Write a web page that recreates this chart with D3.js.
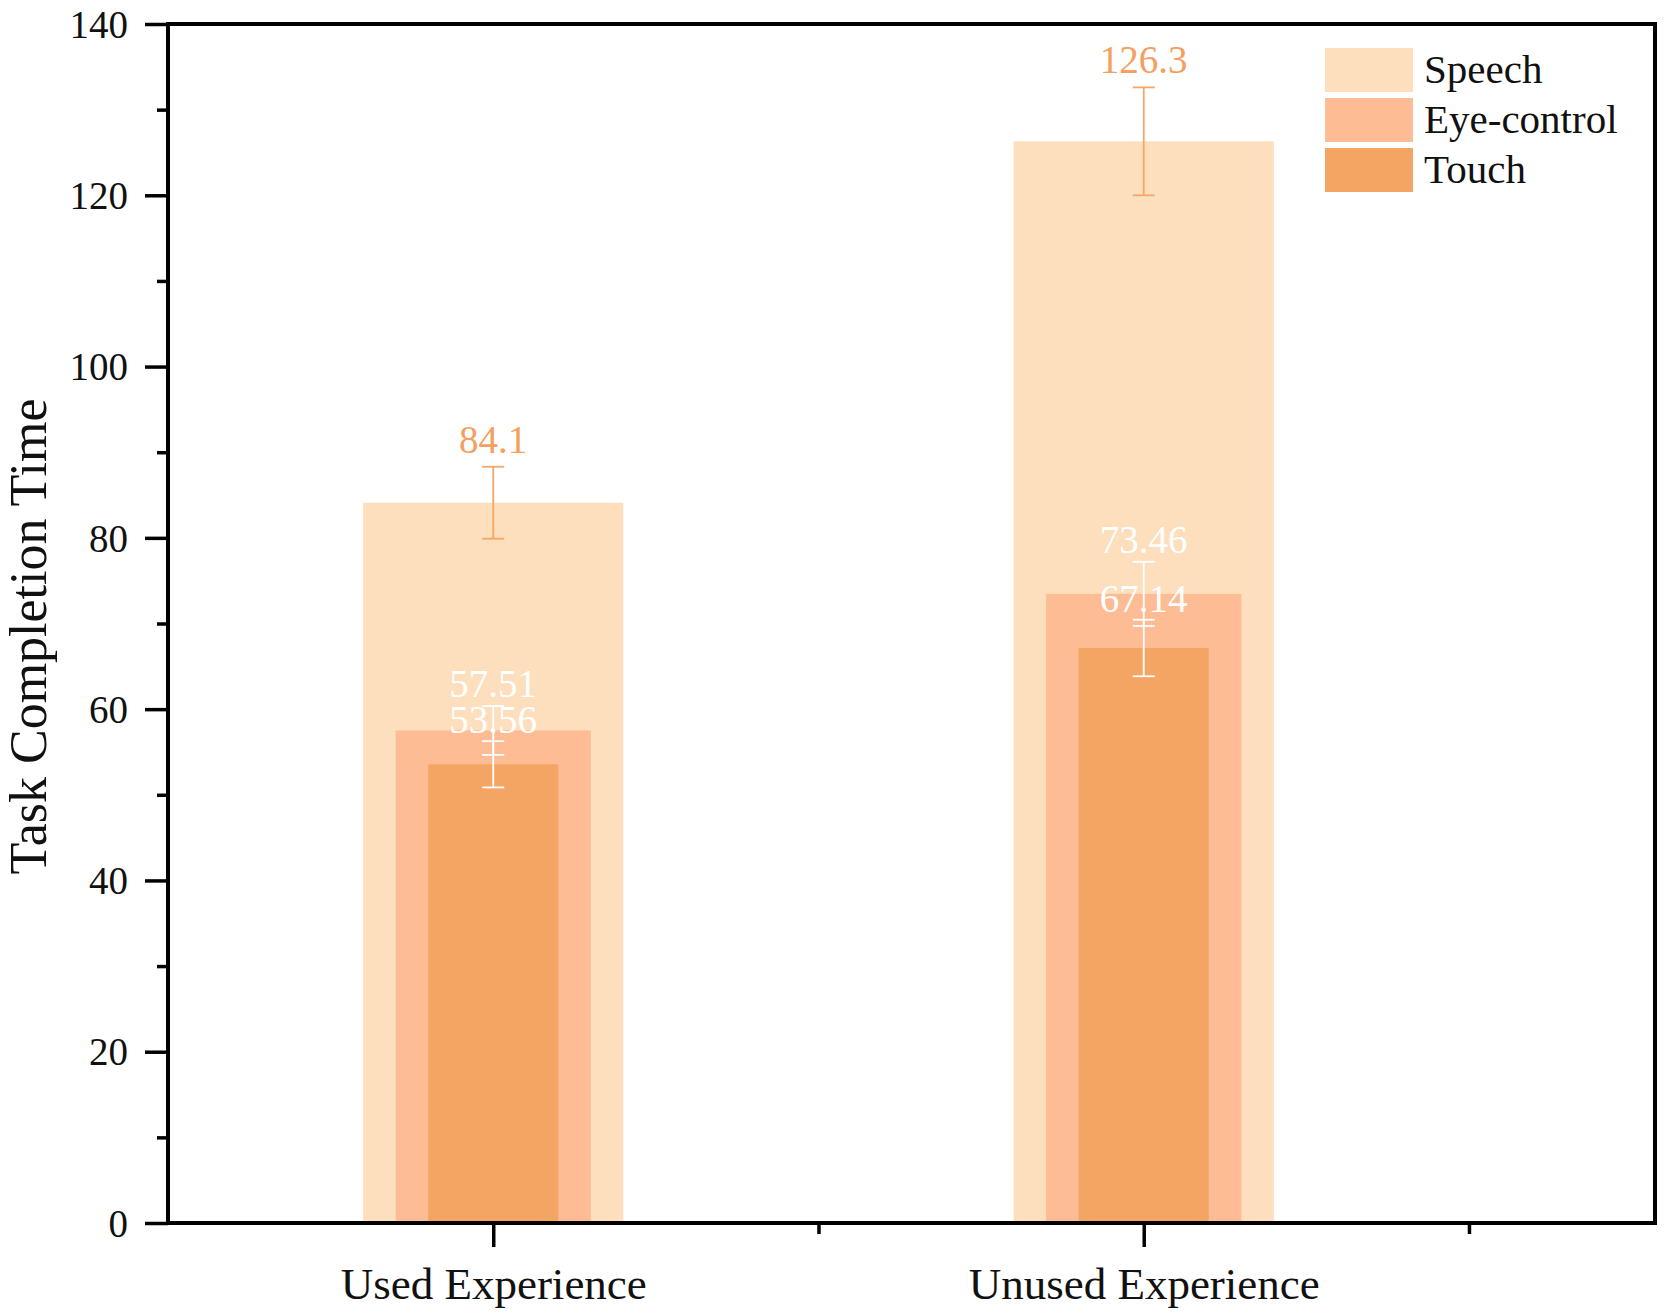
<!DOCTYPE html>
<html>
<head>
<meta charset="utf-8">
<script src="https://cdn.jsdelivr.net/npm/d3@7"></script>
<style>
  html, body { margin: 0; padding: 0; background: #fff; }
  svg { display: block; font-family: "Liberation Serif", "Times New Roman", serif; }
</style>
</head>
<body>
<svg id="chart" width="1665" height="1314"></svg>
<script>
// ---- data ----
const categories = ["Used Experience", "Unused Experience"];
const seriesNames = ["Speech", "Eye-control", "Touch"];
const speechValues = [84.1, 126.3];
const eyeValues = [57.51, 73.46];
const touchValues = [53.56, 67.14];
const speechErrors = [4.2, 6.3];
const eyeErrors = [2.85, 3.75];
const touchErrors = [2.7, 3.3];
const yTicks = [0, 20, 40, 60, 80, 100, 120, 140];
const yMinorTicks = [10, 30, 50, 70, 90, 110, 130];
const xMinorTicks = [1.5, 2.5];
const seriesColors = ["#FDDEBD", "#FDBC94", "#F4A563"];

(function () {
// ---- layout ----
const svg = d3.select("#chart");
const mLeft = 168, mRight = 1655, mTop = 24, mBottom = 1223;

const x = d3.scaleLinear().domain([0.5, 2.786]).range([mLeft, mRight]);
const y = d3.scaleLinear().domain([0, 140]).range([mBottom, mTop]);

const series = [
  { name: seriesNames[0], values: speechValues, errors: speechErrors, color: seriesColors[0], width: 0.4, labelColor: "#F4A060", errColor: "#F4A868", labelGap: 14 },
  { name: seriesNames[1], values: eyeValues, errors: eyeErrors, color: seriesColors[1], width: 0.3, labelColor: "#FFFFFF", errColor: "#FFFFFF", labelGap: 9 },
  { name: seriesNames[2], values: touchValues, errors: touchErrors, color: seriesColors[2], width: 0.2, labelColor: "#FFFFFF", errColor: "#FFFFFF", labelGap: 8 }
];

// bars
series.forEach(s => {
  svg.append("g").selectAll("rect")
    .data(s.values)
    .join("rect")
    .attr("x", (d, i) => x(i + 1 - s.width / 2))
    .attr("width", x(1 + s.width / 2) - x(1 - s.width / 2))
    .attr("y", d => y(d))
    .attr("height", d => y(0) - y(d))
    .attr("fill", s.color);
});

// error bars
const capHalf = 11;
series.forEach(s => {
  const g = svg.append("g").attr("stroke", s.errColor).attr("stroke-width", 1.8).attr("fill", "none");
  s.values.forEach((v, i) => {
    const cx = x(i + 1);
    const hi = y(v + s.errors[i]), lo = y(v - s.errors[i]);
    g.append("line").attr("x1", cx).attr("x2", cx).attr("y1", hi).attr("y2", lo);
    g.append("line").attr("x1", cx - capHalf).attr("x2", cx + capHalf).attr("y1", hi).attr("y2", hi);
    g.append("line").attr("x1", cx - capHalf).attr("x2", cx + capHalf).attr("y1", lo).attr("y2", lo);
  });
});

// value labels
series.forEach(s => {
  svg.append("g").selectAll("text")
    .data(s.values)
    .join("text")
    .attr("x", (d, i) => x(i + 1))
    .attr("y", (d, i) => y(d + s.errors[i]) - s.labelGap)
    .attr("text-anchor", "middle")
    .attr("font-size", 39)
    .attr("fill", s.labelColor)
    .text(d => String(d));
});

// axes
const axisStroke = 4;
const yAxis = svg.append("g")
  .attr("transform", `translate(${mLeft},0)`)
  .call(d3.axisLeft(y).tickValues(yTicks).tickSize(23).tickPadding(17).tickFormat(d3.format("d")));
const yMinor = svg.append("g")
  .attr("transform", `translate(${mLeft},0)`)
  .call(d3.axisLeft(y).tickValues(yMinorTicks).tickSize(11).tickFormat(""));
const xAxis = svg.append("g")
  .attr("transform", `translate(0,${mBottom})`)
  .call(d3.axisBottom(x).tickValues([1, 2]).tickSize(24).tickPadding(20).tickFormat(d => categories[d - 1]));
const xMinor = svg.append("g")
  .attr("transform", `translate(0,${mBottom})`)
  .call(d3.axisBottom(x).tickValues(xMinorTicks).tickSize(11).tickFormat(""));

[yAxis, yMinor, xAxis, xMinor].forEach(g => {
  g.select(".domain").remove();
  g.selectAll(".tick line").attr("stroke", "#000").attr("stroke-width", 3.5);
  g.selectAll(".tick text").attr("fill", "#111").attr("font-family", "Liberation Serif, Times New Roman, serif");
});
yAxis.selectAll(".tick text").attr("font-size", 39).attr("dy", "0.34em");
xAxis.selectAll(".tick text").attr("font-size", 45).attr("dy", "0.72em");

// frame
svg.append("rect")
  .attr("x", mLeft).attr("y", mTop)
  .attr("width", mRight - mLeft).attr("height", mBottom - mTop)
  .attr("fill", "none").attr("stroke", "#000").attr("stroke-width", axisStroke);

// y title
svg.append("text")
  .attr("transform", `translate(46,${(mTop + mBottom) / 2 + 13}) rotate(-90)`)
  .attr("text-anchor", "middle")
  .attr("font-size", 52)
  .attr("fill", "#111")
  .text("Task Completion Time");

// legend
const legend = svg.append("g").attr("transform", "translate(1325,48)");
series.forEach((s, i) => {
  const row = legend.append("g").attr("transform", `translate(0,${i * 50})`);
  row.append("rect").attr("width", 88).attr("height", 44).attr("fill", s.color);
  row.append("text").attr("x", 99).attr("y", 35).attr("font-size", 41).attr("fill", "#111").text(s.name);
});
})();
</script>
</body>
</html>
